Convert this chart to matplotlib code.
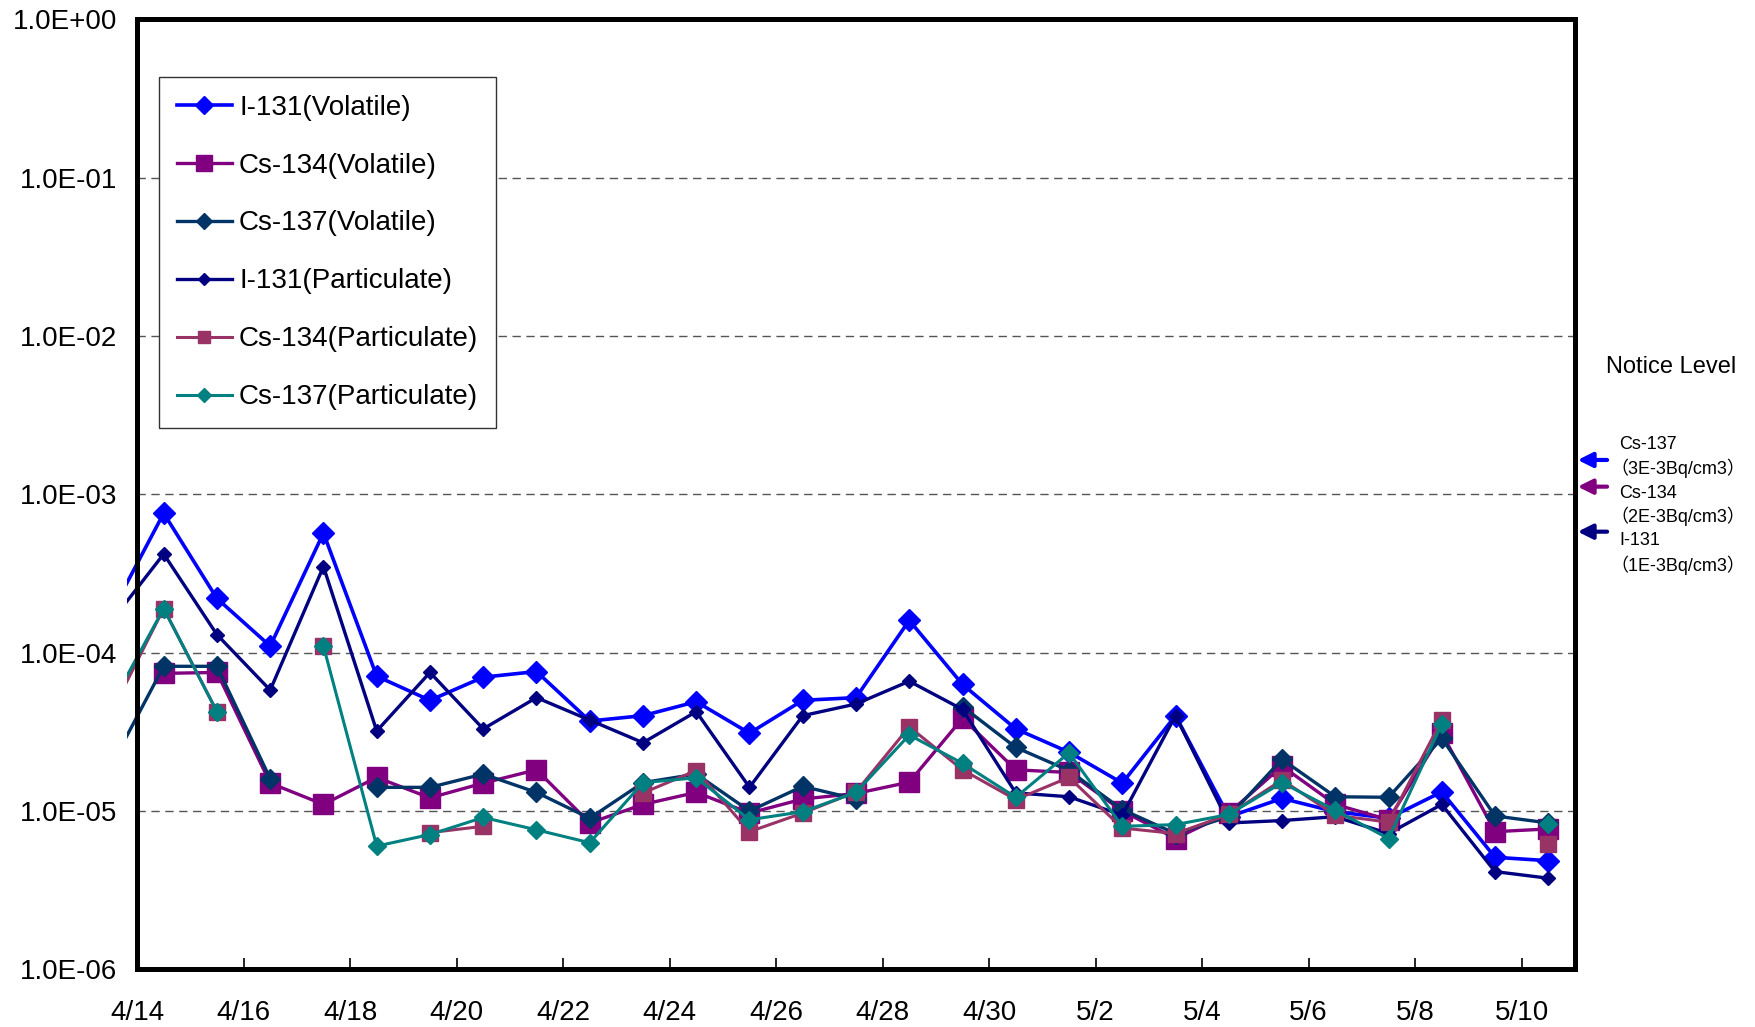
import numpy as np
import matplotlib
matplotlib.use('Agg')
import matplotlib.pyplot as plt
from matplotlib.ticker import FixedLocator, FuncFormatter
from matplotlib.transforms import Bbox, TransformedBbox

plt.rcParams['font.family'] = ['Liberation Sans', 'Noto Sans CJK JP', 'DejaVu Sans']

# daily samples, 4/14 .. 5/10 (drawn at mid-day); nan = not detected
nan = np.nan
i131_vol = [7.6e-4, 2.2e-4, 1.1e-4, 5.7e-4, 7.1e-5, 5.0e-5, 7.0e-5, 7.6e-5, 3.7e-5,
            4.0e-5, 4.9e-5, 3.1e-5, 5.0e-5, 5.2e-5, 1.6e-4, 6.3e-5, 3.3e-5, 2.35e-5,
            1.5e-5, 4.0e-5, 9.2e-6, 1.2e-5, 9.9e-6, 9.0e-6, 1.32e-5, 5.1e-6, 4.85e-6]
cs134_vol = [7.4e-5, 7.5e-5, 1.5e-5, 1.1e-5, 1.63e-5, 1.21e-5, 1.5e-5, 1.82e-5, 8.4e-6,
             1.1e-5, 1.31e-5, 9.7e-6, 1.19e-5, 1.29e-5, 1.52e-5, 3.85e-5, 1.82e-5, 1.75e-5,
             1.0e-5, 6.7e-6, 9.7e-6, 1.92e-5, 1.1e-5, 8.8e-6, 3.1e-5, 7.4e-6, 7.7e-6]
cs137_vol = [8.2e-5, 8.2e-5, 1.6e-5, nan, 1.41e-5, 1.41e-5, 1.71e-5, 1.31e-5, 9.0e-6,
             1.51e-5, 1.71e-5, 1.0e-5, 1.43e-5, 1.19e-5, nan, 4.56e-5, 2.52e-5, 1.8e-5,
             1.02e-5, 7.2e-6, 9.2e-6, 2.12e-5, 1.23e-5, 1.22e-5, 2.88e-5, 9.3e-6, 8.4e-6]
i131_part = [4.2e-4, 1.3e-4, 5.8e-5, 3.5e-4, 3.2e-5, 7.5e-5, 3.3e-5, 5.2e-5, 3.75e-5,
             2.7e-5, 4.24e-5, 1.41e-5, 4.0e-5, 4.74e-5, 6.6e-5, 4.38e-5, 1.3e-5, 1.23e-5,
             9.4e-6, 4.0e-5, 8.4e-6, 8.7e-6, 9.2e-6, 7.2e-6, 1.1e-5, 4.14e-6, 3.76e-6]
cs134_part = [1.9e-4, 4.24e-5, nan, 1.1e-4, nan, 7.3e-6, 8.0e-6, nan, nan,
              1.3e-5, 1.8e-5, 7.4e-6, 9.7e-6, 1.32e-5, 3.4e-5, 1.82e-5, 1.18e-5, 1.63e-5,
              7.8e-6, 7.2e-6, 9.5e-6, 1.57e-5, 9.4e-6, 8.5e-6, 3.76e-5, nan, 6.2e-6]
cs137_part = [1.9e-4, 4.24e-5, nan, 1.1e-4, 6.0e-6, 7.1e-6, 9.1e-6, 7.6e-6, 6.3e-6,
              1.51e-5, 1.62e-5, 8.8e-6, 9.9e-6, 1.31e-5, 3.02e-5, 2.0e-5, 1.22e-5, 2.33e-5,
              8.0e-6, 8.2e-6, 9.5e-6, 1.51e-5, 1.01e-5, 6.7e-6, 3.55e-5, nan, 8.3e-6]
# value of 4/13 (only the stub left of the axis shows)
prev = {'I-131(Volatile)': 1.75e-4, 'Cs-134(Volatile)': nan, 'Cs-137(Volatile)': 1.9e-5,
        'I-131(Particulate)': 1.55e-4, 'Cs-134(Particulate)': 4.1e-5,
        'Cs-137(Particulate)': 4.6e-5}

day_labels = ['4/14', '4/16', '4/18', '4/20', '4/22', '4/24', '4/26', '4/28', '4/30',
              '5/2', '5/4', '5/6', '5/8', '5/10']
ytick_vals = [1e-6, 1e-5, 1e-4, 1e-3, 1e-2, 1e-1, 1e0]

series = [
    ('I-131(Volatile)', i131_vol, '#0000FF', 'D', 11.0, 2.6),
    ('Cs-134(Volatile)', cs134_vol, '#800080', 's', 14.5, 2.4),
    ('Cs-137(Volatile)', cs137_vol, '#003366', 'D', 10.2, 2.4),
    ('I-131(Particulate)', i131_part, '#000080', 'D', 7.2, 2.4),
    ('Cs-134(Particulate)', cs134_part, '#993366', 's', 11.0, 2.2),
    ('Cs-137(Particulate)', cs137_part, '#008080', 'D', 8.8, 2.2),
]

fig = plt.figure(figsize=(17.55, 10.27), dpi=100)
ax = fig.add_axes([0.0781, 0.0562, 0.8193, 0.9249])

days = np.arange(len(i131_vol)) + 0.5
xs = np.concatenate([[-0.5], days])
clip = TransformedBbox(Bbox([[-0.007, 0], [1, 1]]), ax.transAxes)

for name, vals, col, mk, ms, lw in series:
    ys = np.concatenate([[prev[name]], vals])
    ln, = ax.plot(xs, ys, color=col, marker=mk, markersize=ms, linewidth=lw,
                  markeredgecolor=col, markerfacecolor=col, label=name)
    ln.set_clip_box(clip)

ax.set_yscale('log')
ax.set_ylim(1e-6, 1e0)
ax.set_xlim(0, 27)
ax.yaxis.set_major_locator(FixedLocator(ytick_vals))
ax.yaxis.set_minor_locator(FixedLocator([]))
ax.yaxis.set_major_formatter(FuncFormatter(lambda v, p: '%.1E' % v))
ax.set_xticks(np.arange(0, 27, 2))
ax.set_xticklabels(day_labels)
ax.tick_params(axis='x', direction='in', length=8, width=1.2, pad=22, labelsize=20)
ax.tick_params(axis='y', length=0, pad=14, labelsize=20)
ax.grid(axis='y', color='#555555', linestyle=(0, (6, 4)), linewidth=1.0)
for s in ax.spines.values():
    s.set_linewidth(3.6)
    s.set_zorder(5)

leg = ax.legend(loc='upper left', bbox_to_anchor=(0.0155, 0.939), borderaxespad=0,
                fontsize=20, handlelength=2.0, handletextpad=0.25, labelspacing=1.15,
                fancybox=False, edgecolor='#333333', framealpha=1, borderpad=0.62,
                markerscale=0.8)
leg.get_frame().set_linewidth(1.0)

ax.text(1.0216, 0.6344, 'Notice Level', transform=ax.transAxes, fontsize=17,
        va='center', ha='left')
notes = [('Cs-137', '（3E-3Bq/cm3）', '#0000FF', 0.5362, 0.5520, 0.5274),
         ('Cs-134', '（2E-3Bq/cm3）', '#800080', 0.5081, 0.5011, 0.4765),
         ('I-131', '（1E-3Bq/cm3）', '#000080', 0.4607, 0.4512, 0.4249)]
for nm, lvl, col, ya, y1, y2 in notes:
    ax.annotate('', xy=(1.0, ya), xytext=(1.0243, ya), xycoords='axes fraction',
                arrowprops=dict(arrowstyle='-|>', color=col, lw=3, mutation_scale=22),
                annotation_clip=False)
    ax.text(1.0307, y1, nm, transform=ax.transAxes, fontsize=13, va='center')
    ax.text(1.0245, y2, lvl, transform=ax.transAxes, fontsize=13, va='center')

fig.savefig('out.png', dpi=100)
